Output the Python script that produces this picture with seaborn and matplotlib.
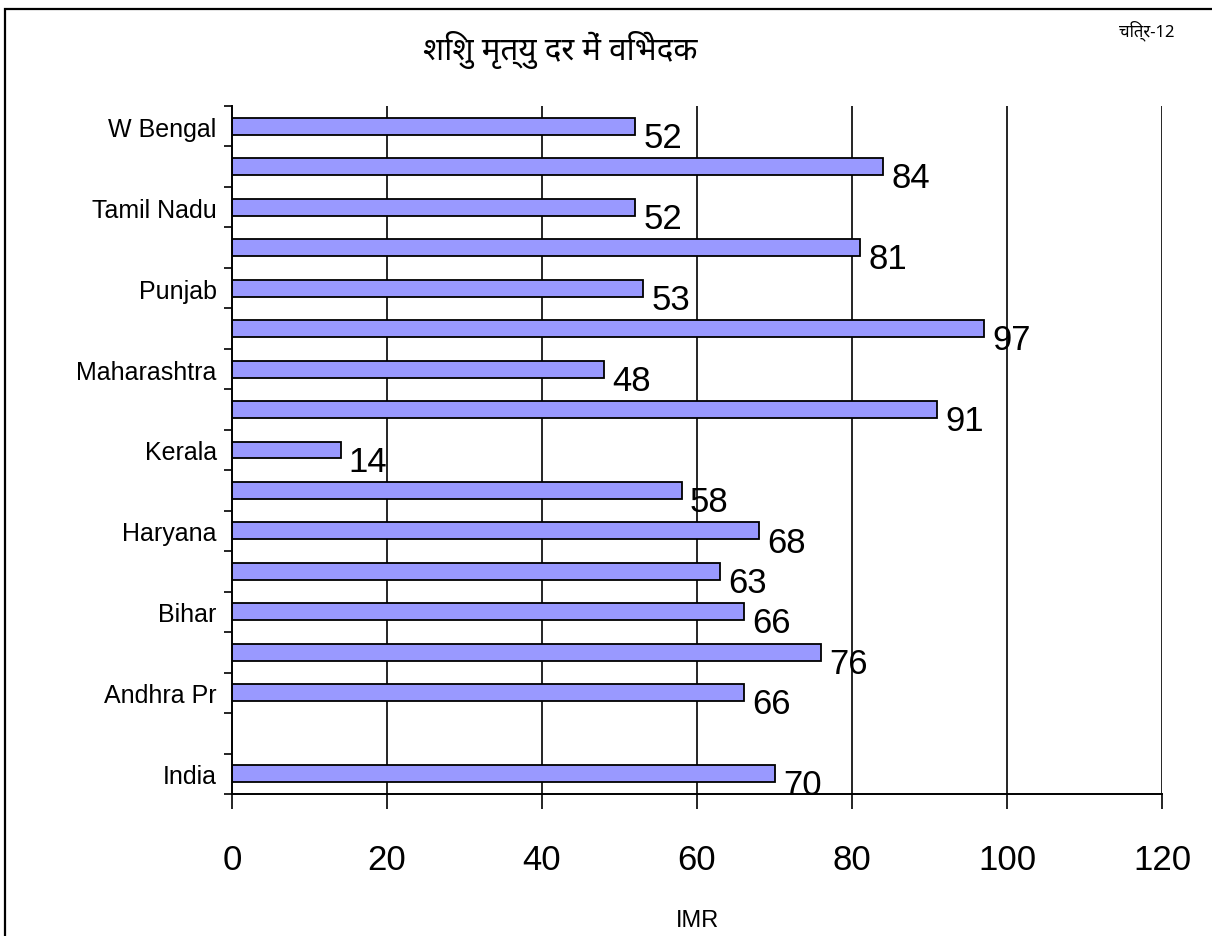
import matplotlib
matplotlib.use("Agg")
import matplotlib.pyplot as plt
import seaborn as sns
import pandas as pd
import numpy as np
from matplotlib.patches import Rectangle

# Infant mortality rate by state (bottom to top as drawn)
states = ["India", "", "Andhra Pr", "Assam", "Bihar", "Gujarat", "Haryana",
          "Karnataka", "Kerala", "Madhya Pr", "Maharashtra", "Orissa",
          "Punjab", "Rajasthan", "Tamil Nadu", "Uttar Pr", "W Bengal"]
imr = [70, np.nan, 66, 76, 66, 63, 68, 58, 14, 91, 48, 97, 53, 81, 52, 84, 52]
# only every other category carries a visible label
labelled = ["India", "Andhra Pr", "Bihar", "Haryana", "Kerala",
            "Maharashtra", "Punjab", "Tamil Nadu", "W Bengal"]
x_ticks = [0, 20, 40, 60, 80, 100, 120]

title = "शिशु मृत्यु दर में विभेदक"
fig_no = "चित्र-12"
x_label = "IMR"

sns.set_theme(style="white")
narrow = ["Liberation Sans Narrow", "Liberation Sans", "DejaVu Sans"]
deva = ["Noto Sans", "Noto Sans Devanagari", "DejaVu Sans"]
plt.rcParams["font.family"] = narrow
plt.rcParams["text.color"] = "black"
plt.rcParams["xtick.color"] = "black"
plt.rcParams["ytick.color"] = "black"
plt.rcParams["axes.labelcolor"] = "black"

df = pd.DataFrame({"state": states, "imr": imr})
order = states[::-1]  # top to bottom

fig = plt.figure(figsize=(12.12, 9.37), dpi=100)
ax = fig.add_axes([232 / 1212, 1 - 795 / 937, (1162 - 232) / 1212, (795 - 107) / 937])

sns.barplot(data=df.dropna(), x="imr", y="state", order=order, orient="h",
            color="#9999FF", saturation=1, width=0.42, edgecolor="black",
            linewidth=1.3, ax=ax)

ax.set_xlim(0, 120)
ax.set_ylim(len(order) - 0.5, -0.5)

# vertical gridlines
for v in x_ticks[1:]:
    ax.axvline(v, color="black", lw=1.2, zorder=0)

ax.set_xticks(x_ticks)
ax.set_xticklabels([str(t) for t in x_ticks], fontsize=25, color="black")
ax.tick_params(axis="x", direction="out", length=11, width=1.2, pad=24,
               color="black", bottom=True)

pos = np.arange(len(order))
ax.set_yticks(pos)
ax.set_yticklabels([s if s in labelled else "" for s in order], fontsize=18,
                   color="black")
ax.tick_params(axis="y", which="major", length=0, pad=11)
ax.set_yticks(np.arange(-0.5, len(order), 1.0), minor=True)
ax.tick_params(axis="y", which="minor", direction="out", length=6, width=1.2,
               color="black", left=True)

for s in ["top", "right"]:
    ax.spines[s].set_visible(False)
for s in ["left", "bottom"]:
    ax.spines[s].set_color("black")
    ax.spines[s].set_linewidth(1.4)
ax.set_xlabel("")
ax.set_ylabel("")

# value labels next to each bar
for name, v in zip(states, imr):
    if np.isnan(v):
        continue
    y = order.index(name)
    ax.annotate(f"{int(v)}", xy=(v, y), xytext=(6, -8),
                textcoords="offset points", ha="left", va="center",
                fontsize=25, color="black", annotation_clip=False)

fig.text(560 / 1212, 1 - 50 / 937, title, ha="center", va="center",
         fontsize=22.5, family=deva)
fig.text(1147 / 1212, 1 - 31 / 937, fig_no, ha="center", va="center",
         fontsize=12, family=deva)
fig.text(697 / 1212, 1 - 921 / 937, x_label, ha="center", va="center",
         fontsize=17)

# outer frame
fig.patches.append(Rectangle((5 / 1212, -0.1), 1.2, 1 - 10 / 937 + 0.1,
                             transform=fig.transFigure, fill=False,
                             edgecolor="black", lw=1.6))

fig.savefig("out.png", dpi=100, facecolor="white")
